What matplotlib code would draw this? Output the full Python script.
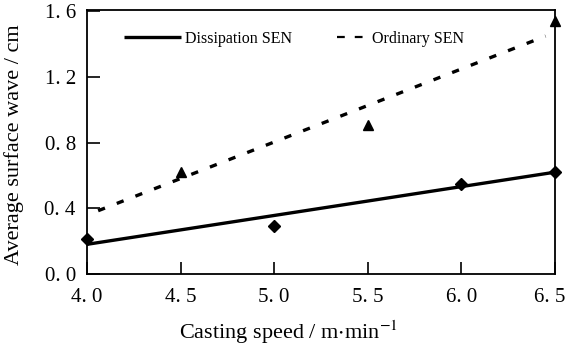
import matplotlib
matplotlib.use("Agg")
import matplotlib.pyplot as plt
from matplotlib.lines import Line2D
from matplotlib.transforms import ScaledTranslation

plt.rcParams['font.family'] = ['Liberation Serif', 'DejaVu Serif']
plt.rcParams['mathtext.fontset'] = 'stix'

# measured points
speed_diss = [4.0, 5.0, 6.0, 6.5]
wave_diss = [0.21, 0.29, 0.55, 0.62]
speed_ord = [4.5, 5.5, 6.5]
wave_ord = [0.62, 0.91, 1.54]

# fitted lines
fit_diss_x = [4.0, 6.5]
fit_diss_y = [0.18, 0.62]
fit_ord_x = [4.06, 6.45]
fit_ord_y = [0.385, 1.45]

xticks = [4.0, 4.5, 5.0, 5.5, 6.0, 6.5]
yticks = [0.0, 0.4, 0.8, 1.2, 1.6]

fig = plt.figure(figsize=(5.68, 3.52), dpi=100)
ax = fig.add_axes([0.153, 0.222, 0.824, 0.750])

l1, = ax.plot(fit_diss_x, fit_diss_y, color='black', lw=2.4, solid_capstyle='butt')
l2, = ax.plot(fit_ord_x, fit_ord_y, color='black', lw=2.4, ls=(0, (2.2, 3.8)))
ax.plot(speed_diss, wave_diss, 'D', color='black', ms=6, clip_on=False)
ax.plot(speed_ord, wave_ord, '^', color='black', ms=7, clip_on=False)

ax.set_xlim(4.0, 6.5)
ax.set_ylim(0.0, 1.61)
ax.set_xticks(xticks)
ax.set_xticklabels(['4. 0', '4. 5', '5. 0', '5. 5', '6. 0', '6. 5'])
ax.set_yticks(yticks)
ax.set_yticklabels(['0. 0', '0. 4', '0. 8', '1. 2', '1. 6'])
ax.tick_params(direction='in', length=9, width=1.2, labelsize=15, pad=8)
ax.tick_params(axis='x', pad=10)
for s in ax.spines.values():
    s.set_linewidth(1.3)

# keep the last x label inside the figure
last = ax.get_xticklabels()[-1]
last.set_transform(last.get_transform() + ScaledTranslation(-5 / 100, 0, fig.dpi_scale_trans))

ax.set_xlabel('Casting speed / m$\\cdot$min$^{-1}$', fontsize=16)
ax.xaxis.set_label_coords(0.43, -0.17)
ax.set_ylabel('Average surface wave / cm', fontsize=16)
ax.yaxis.set_label_coords(-0.135, 0.49)

leg1 = ax.legend([l1], ['Dissipation SEN'], loc='center left',
                 bbox_to_anchor=(0.065, 0.89), frameon=False, fontsize=11.5,
                 handlelength=3.6, handletextpad=0.25, borderaxespad=0)
ax.add_artist(leg1)
h2 = Line2D([], [], color='black', lw=1.6, ls=(0, (3.5, 4.5)))
ax.legend([h2], ['Ordinary SEN'], loc='center left',
          bbox_to_anchor=(0.52, 0.89), frameon=False, fontsize=11.5,
          handlelength=1.7, handletextpad=0.5, borderaxespad=0)

fig.savefig('out.png', dpi=100)
